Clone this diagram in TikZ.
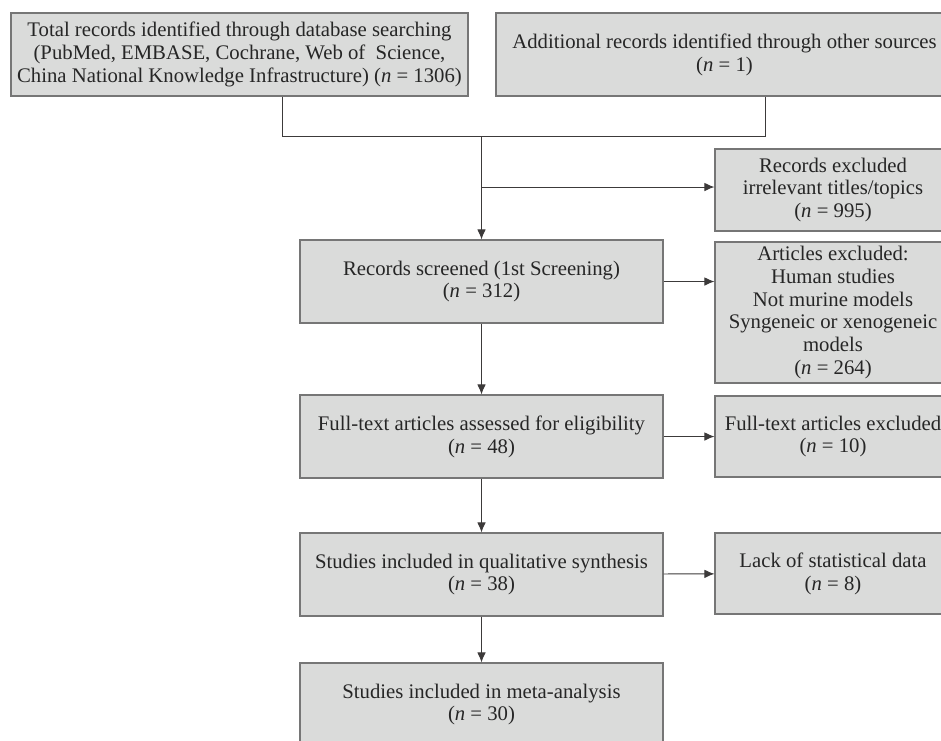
\documentclass[tikz,border=0pt]{standalone}
\usepackage{fontspec}
\setmainfont{Liberation Serif}
\usetikzlibrary{arrows.meta}
\definecolor{boxfill}{RGB}{218,219,218}
\definecolor{boxline}{RGB}{118,118,118}
\definecolor{inkline}{RGB}{60,58,58}
\begin{document}
\begin{tikzpicture}[>={Latex[length=2mm,width=1.7mm]},every node/.style={font=\fontsize{11.8}{13}\selectfont,text=black!85},b/.style={draw=boxline,line width=.6pt,fill=boxfill,align=center,inner sep=0pt},c/.style={draw=inkline,line width=.55pt}]
\useasboundingbox (0,0) rectangle (18.82,-14.8);
\clip (0,0) rectangle (18.82,-14.8);
% identification
\node[b,minimum width=9.14cm,minimum height=1.66cm] (total) at (4.79,-1.09) {Total records identified through database searching\\(PubMed, EMBASE, Cochrane, Web of~ Science,\\China National Knowledge Infrastructure) (\textit{n} = 1306)};
\node[b,minimum width=9.14cm,minimum height=1.66cm] (other) at (14.49,-1.09) {Additional records identified through other sources\\(\textit{n} = 1)};
% main column
\node[b,minimum width=7.26cm,minimum height=1.66cm] (screened) at (9.63,-5.63) {Records screened (1st Screening)\\(\textit{n} = 312)};
\node[b,minimum width=7.26cm,minimum height=1.66cm] (fulltext) at (9.63,-8.73) {Full-text articles assessed for eligibility\\(\textit{n} = 48)};
\node[b,minimum width=7.26cm,minimum height=1.66cm] (qual) at (9.63,-11.49) {Studies included in qualitative synthesis\\(\textit{n} = 38)};
\node[b,minimum width=7.26cm,minimum height=1.66cm] (meta) at (9.63,-14.09) {Studies included in meta-analysis\\(\textit{n} = 30)};
% exclusions
\node[b,minimum width=4.72cm,minimum height=1.64cm] (recex) at (16.66,-3.80) {Records excluded\\irrelevant titles/topics\\(\textit{n} = 995)};
\node[b,minimum width=4.72cm,minimum height=2.82cm] (artex) at (16.66,-6.25) {Articles excluded:\\Human studies\\Not murine models\\Syngeneic or xenogeneic\\models\\(\textit{n} = 264)};
\node[b,minimum width=4.72cm,minimum height=1.62cm] (ftex) at (16.66,-8.73) {Full-text articles excluded\\(\textit{n} = 10)};
\node[b,minimum width=4.72cm,minimum height=1.62cm] (lack) at (16.66,-11.47) {Lack of statistical data\\(\textit{n} = 8)};
\coordinate (j1) at (5.64,-2.72);
\coordinate (j2) at (15.30,-2.72);
\coordinate (jm) at (9.63,-2.72);
\coordinate (jr) at (9.63,-3.74);
\draw[c] (total.south -| j1)--(j1)--(j2)--(other.south -| j2);
\draw[c,->] (jm)--(screened);
\draw[c,->] (jr)--(jr -| recex.west);
\draw[c,->] (screened.east)--(screened.east -| artex.west);
\draw[c,->] (screened)--(fulltext);
\draw[c,->] (fulltext)--(ftex);
\draw[c,->] (fulltext)--(qual);
\draw[c,->] (qual)--(lack);
\draw[c,->] (qual)--(meta);
\end{tikzpicture}
\end{document}
